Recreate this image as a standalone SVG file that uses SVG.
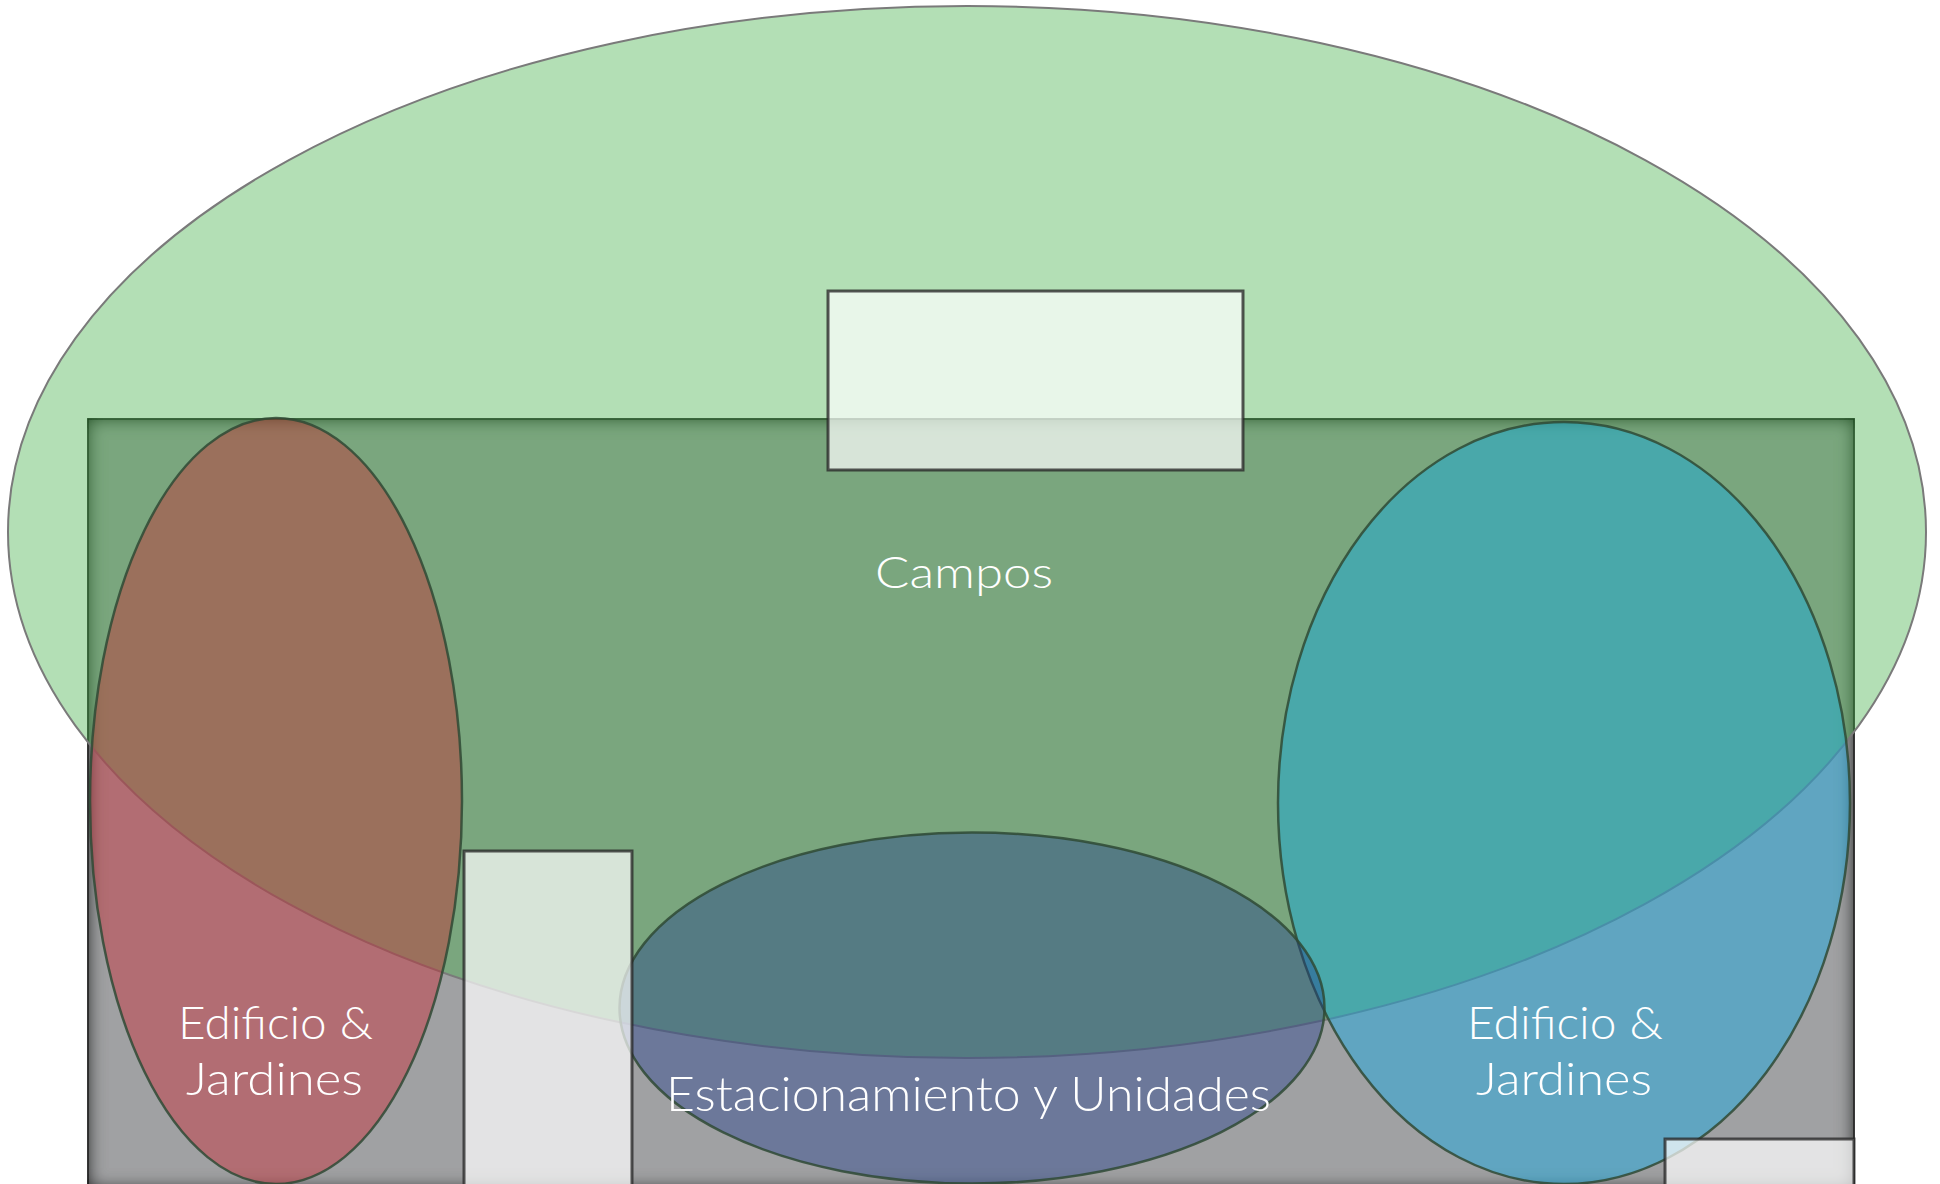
<svg xmlns="http://www.w3.org/2000/svg" width="1940" height="1184" viewBox="0 0 1940 1184">
  <defs>
    <filter id="inset" x="-3%" y="-5%" width="106%" height="110%">
      <feFlood flood-color="#000" flood-opacity="0.9" result="f"/>
      <feComposite in="f" in2="SourceAlpha" operator="out" result="o"/>
      <feGaussianBlur in="o" stdDeviation="9" result="b"/>
      <feComposite in="b" in2="SourceAlpha" operator="in" result="s"/>
      <feMerge><feMergeNode in="SourceGraphic"/><feMergeNode in="s"/><feMergeNode in="s"/></feMerge>
    </filter>
    <style>
      .lbl { font-family: "Lato Light", Lato, "Open Sans", "Liberation Sans", sans-serif; font-weight: 300; fill: #ffffff; text-anchor: middle; }
      .zone { stroke: #2f4a35; stroke-width: 2.5; stroke-opacity: 0.85; fill-opacity: 0.4; }
      .box { fill: #ffffff; fill-opacity: 0.7; stroke: #2a2a2a; stroke-width: 3; stroke-opacity: 0.8; }
    </style>
  </defs>
  <rect width="1940" height="1184" fill="#ffffff"/>

  <g id="site">
    <rect x="88" y="419" width="1766" height="770" fill="#a0a1a3" stroke="#3a3a3a" stroke-width="1.5" filter="url(#inset)"/>
  </g>

  <g id="campos">
    <ellipse cx="967" cy="532" rx="959" ry="526" fill="#41af46" fill-opacity="0.4" stroke="#7a7a7a" stroke-width="2"/>
    <text class="lbl" x="964" y="588" font-size="43" textLength="178" lengthAdjust="spacingAndGlyphs">Campos</text>
  </g>

  <g id="edificio-izq">
    <ellipse class="zone" cx="276" cy="801" rx="186" ry="383" fill="#cd202b"/>
    <text class="lbl" x="275.5" y="1039" font-size="46" textLength="195" lengthAdjust="spacingAndGlyphs">Edificio &amp;</text>
    <text class="lbl" x="274.5" y="1095" font-size="46" textLength="177" lengthAdjust="spacingAndGlyphs">Jardines</text>
  </g>

  <g id="edificio-der">
    <ellipse class="zone" cx="1564" cy="803" rx="286" ry="381" fill="#00acee"/>
    <text class="lbl" x="1565" y="1039" font-size="46" textLength="196" lengthAdjust="spacingAndGlyphs">Edificio &amp;</text>
    <text class="lbl" x="1564" y="1095" font-size="46" textLength="176" lengthAdjust="spacingAndGlyphs">Jardines</text>
  </g>

  <g id="estacionamiento">
    <ellipse class="zone" cx="972" cy="1008" rx="352.5" ry="175.5" fill="#1e3c8c"/>
    <text class="lbl" x="968.5" y="1111" font-size="48" textLength="605" lengthAdjust="spacingAndGlyphs">Estacionamiento y Unidades</text>
  </g>

  <g id="caja-superior">
    <rect class="box" x="828" y="291" width="415" height="179"/>
  </g>
  <g id="caja-izquierda">
    <rect class="box" x="464" y="851" width="168" height="345"/>
  </g>
  <g id="caja-derecha">
    <rect class="box" x="1665" y="1139" width="189" height="60"/>
  </g>

  <g id="connectors"/>
</svg>
